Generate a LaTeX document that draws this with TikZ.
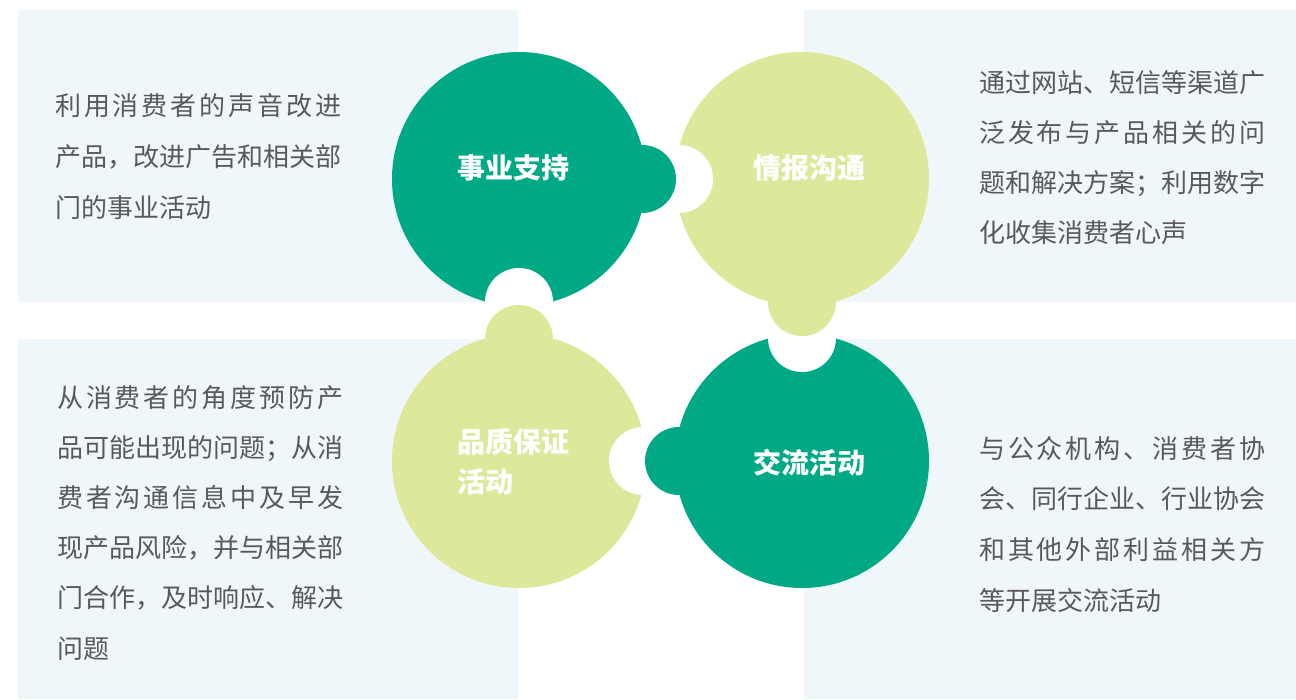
\documentclass[tikz,border=0pt]{standalone}
\usepackage{fontspec}
\newfontfamily\cjk{Noto Sans CJK SC}
\definecolor{qgreen}{RGB}{0,169,133}
\definecolor{qyellow}{RGB}{221,232,155}
\definecolor{qpanel}{RGB}{240,247,251}
\definecolor{qtext}{RGB}{89,89,89}
% one line spread over the full text width
\newlength\jw \setlength\jw{286pt}
\def\jlend{\relax}
\def\jlfirst#1{#1\jlstep}
\def\jlstep#1{\ifx#1\jlend\else\hfil#1\expandafter\jlstep\fi}
\newcommand\jline[1]{\hbox to\jw{\expandafter\jlfirst#1\jlend}}

\begin{document}
\begin{tikzpicture}[x=1pt,y=-1pt,
    desc/.style={anchor=base west,inner sep=0pt,text=qtext,font=\cjk\fontsize{26}{26}\selectfont},
    title/.style={anchor=base west,inner sep=0pt,text=white,font=\cjk\bfseries\fontsize{28}{28}\selectfont}]
  \useasboundingbox (0,0) rectangle (1296,699);
  % panels
  \fill[qpanel] (18,10) rectangle (518,302);
  \fill[qpanel] (804,10) rectangle (1296,302);
  \fill[qpanel] (18,339) rectangle (518,699);
  \fill[qpanel] (804,339) rectangle (1296,699);

  % puzzle pieces
  \fill[qgreen] (519,179) circle (127pt);
  \fill[qyellow] (802,179) circle (127pt);
  \fill[qyellow] (519,461) circle (127pt);
  \fill[qgreen] (802,461) circle (127pt);
  \foreach \x/\y in {679/179,519/302,643/461,802/338}
    \fill[white] (\x,\y) circle (34pt);
  \fill[qgreen] (642,179) circle (34pt);
  \fill[qyellow] (802,302) circle (34pt);
  \fill[qyellow] (519,339) circle (34pt);
  \fill[qgreen] (679,461) circle (34pt);

  \node[title] (sup) at (457,178.5) {事业支持};
  \node[title] (info) at (753,178.5) {情报沟通};
  \node[title] (qa) at (457,452) {品质保证};
  \node[title] (qa2) at (457,492.5) {活动};
  \node[title] (comm) at (753,473.5) {交流活动};

  % descriptions
  \foreach \txt/\jf [count=\k from 0] in {利用消费者的声音改进/1,产品，改进广告和相关部/1,门的事业活动/0}
    \node[desc] (tl\k) at (55,115.5+51*\k) {\ifnum\jf=1 \jline{\txt}\else\txt\fi};
  \foreach \txt/\jf [count=\k from 0] in {通过网站、短信等渠道广/1,泛发布与产品相关的问/1,题和解决方案；利用数字/1,化收集消费者心声/0}
    \node[desc] (tr\k) at (979,92+50*\k) {\ifnum\jf=1 \jline{\txt}\else\txt\fi};
  \foreach \txt/\jf [count=\k from 0] in {从消费者的角度预防产/1,品可能出现的问题；从消/1,费者沟通信息中及早发/1,现产品风险，并与相关部/1,门合作，及时响应、解决/1,问题/0}
    \node[desc] (bl\k) at (57,407+50.2*\k) {\ifnum\jf=1 \jline{\txt}\else\txt\fi};
  \foreach \txt/\jf [count=\k from 0] in {与公众机构、消费者协/1,会、同行企业、行业协会/1,和其他外部利益相关方/1,等开展交流活动/0}
    \node[desc] (br\k) at (979,458+50.7*\k) {\ifnum\jf=1 \jline{\txt}\else\txt\fi};
\end{tikzpicture}
\end{document}
